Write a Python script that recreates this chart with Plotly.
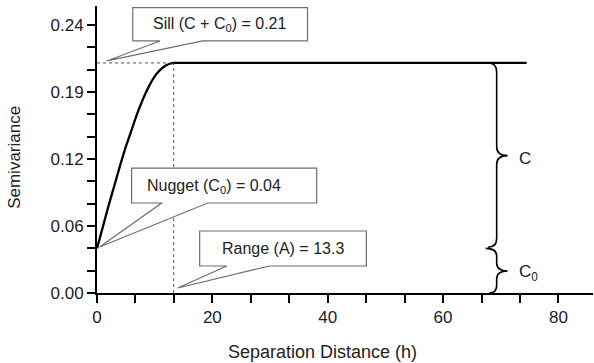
import plotly.graph_objects as go

# ---- data ----
h = [0, 1, 2, 3, 4, 5, 6, 7, 8, 9, 10, 11, 12, 13.3, 16, 74.5]
gamma = [0.040, 0.059, 0.078, 0.096, 0.114, 0.131, 0.146, 0.161, 0.174,
         0.185, 0.194, 0.200, 0.204, 0.206, 0.206, 0.206]

nugget = 0.040
sill_drawn = 0.206
range_a = 13.3

x_tick_vals = [0, 20, 40, 60, 80]
x_tick_labels = ["0", "20", "40", "60", "80"]
y_tick_vals = [0, 0.06, 0.12, 0.18, 0.24]
y_tick_labels = ["0.00", "0.06", "0.12", "0.19", "0.24"]

FONT = "Liberation Sans, Arial, sans-serif"
TXT = "#222222"
BOX = "#6e6e6e"

fig = go.Figure()

# model curve
fig.add_trace(go.Scatter(x=h, y=gamma, mode="lines",
                         line=dict(color="black", width=2.3, shape="spline", smoothing=0.6),
                         hoverinfo="skip", showlegend=False))
# sill dotted horizontal and range dotted vertical
fig.add_trace(go.Scatter(x=[0, range_a], y=[sill_drawn, sill_drawn], mode="lines",
                         line=dict(color="#555555", width=1, dash="dot"),
                         showlegend=False, hoverinfo="skip"))
fig.add_trace(go.Scatter(x=[range_a, range_a], y=[0, sill_drawn], mode="lines",
                         line=dict(color="#555555", width=1, dash="dot"),
                         showlegend=False, hoverinfo="skip"))

shapes = []


def callout(x0, x1, ytop, ybot, b1, b2, tipx, tipy):
    p = (f"M {x0},{ytop} L {x1},{ytop} L {x1},{ybot} L {b2},{ybot} "
         f"L {tipx},{tipy} L {b1},{ybot} L {x0},{ybot} Z")
    return dict(type="path", path=p, xref="x", yref="y",
                line=dict(color=BOX, width=1.2), fillcolor="white", layer="above")


shapes.append(callout(6.2, 36.5, 0.2555, 0.2257, 10.9, 18.3, 1.7, 0.2078))
shapes.append(callout(6.0, 38.1, 0.1119, 0.0806, 11.2, 19.2, 0.45, 0.0412))
shapes.append(callout(17.8, 46.7, 0.0555, 0.0242, 22.5, 29.9, 14.0, 0.0045))

# braces
big = ("M 67.8,0.206 Q 69.3,0.206 69.3,0.198 L 69.3,0.131 "
       "Q 69.3,0.123 71.2,0.123 Q 69.3,0.123 69.3,0.115 L 69.3,0.049 "
       "Q 69.3,0.041 67.8,0.041")
small = ("M 67.4,0.040 Q 69.3,0.040 69.3,0.033 L 69.3,0.027 "
         "Q 69.3,0.0197 71.2,0.0197 Q 69.3,0.0197 69.3,0.0125 L 69.3,0.007 "
         "Q 69.3,0.0 68.0,0.0")
for p in (big, small):
    shapes.append(dict(type="path", path=p, xref="x", yref="y",
                       line=dict(color="black", width=1.6), layer="above"))

annotations = [
    dict(x=21.3, y=0.2405, xref="x", yref="y", text="Sill (C + C<sub>0</sub>) = 0.21",
         showarrow=False, font=dict(family=FONT, size=16, color=TXT)),
    dict(x=20.3, y=0.0958, xref="x", yref="y", text="Nugget (C<sub>0</sub>) = 0.04",
         showarrow=False, font=dict(family=FONT, size=16, color=TXT)),
    dict(x=32.2, y=0.0400, xref="x", yref="y", text="Range (A) = 13.3",
         showarrow=False, font=dict(family=FONT, size=16, color=TXT)),
    dict(x=72.8, y=0.120, xref="x", yref="y", text="C", xanchor="left",
         showarrow=False, font=dict(family=FONT, size=17, color=TXT)),
    dict(x=72.9, y=0.018, xref="x", yref="y", text="C<sub>0</sub>", xanchor="left",
         showarrow=False, font=dict(family=FONT, size=17, color=TXT)),
    dict(x=39.1, y=-0.2056, xref="x", yref="paper", text="Separation Distance (h)",
         xanchor="center", yanchor="middle",
         showarrow=False, font=dict(family=FONT, size=18, color=TXT)),
    dict(x=-0.1653, y=0.471, xref="paper", yref="paper", text="Semivariance", textangle=-90,
         xanchor="center", yanchor="middle",
         showarrow=False, font=dict(family=FONT, size=17, color=TXT)),
]

tick_style = dict(ticks="outside", ticklen=8, tickwidth=2, tickcolor="black")

fig.update_layout(
    width=594, height=363, autosize=False,
    margin=dict(l=97, r=1, t=6, b=70, pad=0),
    paper_bgcolor="white", plot_bgcolor="white",
    shapes=shapes, annotations=annotations,
    showlegend=False,
    xaxis=dict(range=[0, 86], tickmode="array", tickvals=x_tick_vals, ticktext=x_tick_labels,
               minor=dict(tickmode="linear", tick0=0, dtick=20 / 3, showgrid=False, **tick_style),
               showline=True, linecolor="black", linewidth=2, showgrid=False,
               zeroline=False, tickfont=dict(family=FONT, size=17, color=TXT), **tick_style),
    yaxis=dict(range=[0, 0.257], tickmode="array", tickvals=y_tick_vals, ticktext=y_tick_labels,
               minor=dict(tickmode="linear", tick0=0, dtick=0.02, showgrid=False, **tick_style),
               showline=True, linecolor="black", linewidth=2, showgrid=False,
               zeroline=False, tickfont=dict(family=FONT, size=17, color=TXT), **tick_style),
)

fig.write_html("out.html")
